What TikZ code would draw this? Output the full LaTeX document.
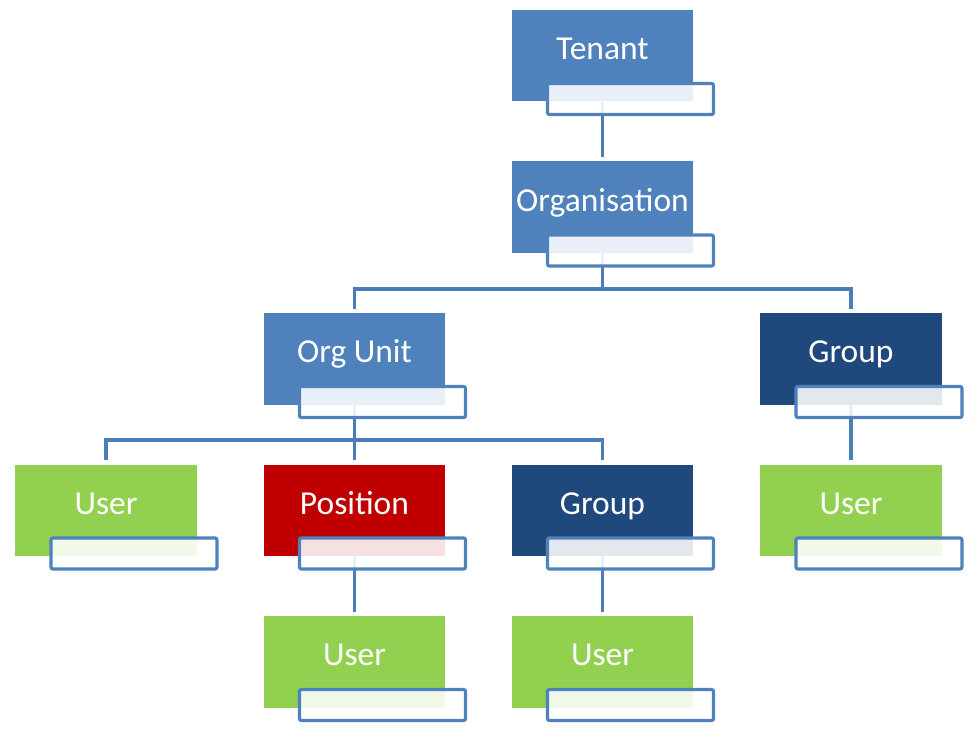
\documentclass[tikz,border=0pt]{standalone}
\usepackage{fontspec}
\setmainfont{Carlito}
\definecolor{midblue}{HTML}{4F81BD}
\definecolor{darkblue}{HTML}{1F497D}
\definecolor{usergreen}{HTML}{92D050}
\definecolor{posred}{HTML}{C00000}
\definecolor{linkblue}{HTML}{4A7EBB}
\tikzset{
  orgbox/.style={rectangle, inner sep=0pt, minimum width=181.5pt, minimum height=91.5pt,
    fill=#1, text=white, font=\fontsize{33.5}{40}\selectfont, text height=20pt, text depth=12pt},
  lblbox/.style={rectangle, inner sep=0pt, minimum width=166pt, minimum height=31pt,
    draw=midblue, line width=3.2pt, rounded corners=2pt, fill=white, fill opacity=0.88},
  conn/.style={draw=linkblue, line width=3.2pt}
}
\begin{document}
\begin{tikzpicture}[x=1pt,y=-1pt]
\useasboundingbox (0,0) rectangle (978,730);
% boxes (centres)
\node[orgbox=midblue]   (ten) at (602.5,55.75)  {Tenant};
\node[orgbox=midblue]   (org) at (602.5,207.25) {Organisation};
\node[orgbox=midblue]   (ou)  at (354.5,358.75) {Org Unit};
\node[orgbox=darkblue]  (grpB) at (851,358.75)  {Group};
\node[orgbox=usergreen] (u1)  at (106,510.25)   {User};
\node[orgbox=posred]    (pos) at (354.5,510.25) {Position};
\node[orgbox=darkblue]  (grpA) at (602.5,510.25) {Group};
\node[orgbox=usergreen] (u4)  at (851,510.25)   {User};
\node[orgbox=usergreen] (u2)  at (354.5,661.75) {User};
\node[orgbox=usergreen] (u3)  at (602.5,661.75) {User};
% connectors
\coordinate (bar1) at (602.5,289);
\coordinate (bar2) at (354.5,440);
\draw[conn] (ten.south) -- ([yshift=4pt]org.north);
\draw[conn] (org.south) -- (bar1);
\draw[conn] ([yshift=4pt]ou.north) |- (bar1) -| ([yshift=4pt]grpB.north);
\draw[conn] (ou.south) -- ([yshift=4pt]pos.north);
\draw[conn] ([yshift=4pt]u1.north) |- (bar2) -| ([yshift=4pt]grpA.north);
\draw[conn] (grpB.south) -- ([yshift=4pt]u4.north);
\draw[conn] (pos.south) -- ([yshift=4pt]u2.north);
\draw[conn] (grpA.south) -- ([yshift=4pt]u3.north);
% label boxes
\foreach \n in {ten,org,ou,grpB,u1,pos,grpA,u4,u2,u3}{
  \node[lblbox] (\n-lbl) at ([xshift=28pt,yshift=-43.25pt]\n.center) {};
}
\end{tikzpicture}
\end{document}
